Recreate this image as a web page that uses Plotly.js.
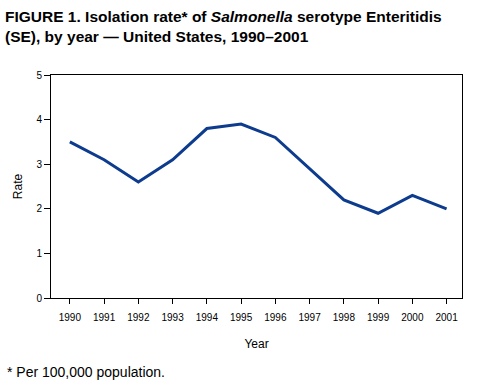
<!DOCTYPE html>
<html><head><meta charset="utf-8">
<script src="https://cdn.plot.ly/plotly-3.0.1.min.js"></script>
<style>html,body{margin:0;padding:0;background:#fff}#chart{width:482px;height:387px}</style>
</head><body><div id="chart"></div>
<script>
const years = [1990,1991,1992,1993,1994,1995,1996,1997,1998,1999,2000,2001];
const rates = [3.5,3.1,2.6,3.1,3.8,3.9,3.6,2.9,2.2,1.9,2.3,2.0];
const yTicks = [0,1,2,3,4,5];

const font = "'Liberation Sans', Arial, Helvetica, sans-serif";
const W = 411, H = 223;
const data = [{
  x: years, y: rates, type: 'scatter', mode: 'lines',
  line: {color: '#0d3b8e', width: 3}, hoverinfo: 'none'
}];
const layout = {
  width: 482, height: 387,
  margin: {l: 51, r: 20, t: 75, b: 89},
  paper_bgcolor: '#fff', plot_bgcolor: '#fff',
  font: {family: font, color: '#000', size: 10},
  showlegend: false,
  xaxis: {
    range: [1989.45, 2001.45], tickvals: years, ticktext: years.map(String),
    showgrid: false, zeroline: false, showline: true, linecolor: '#000', linewidth: 1, mirror: true,
    ticks: 'outside', ticklen: 5, tickcolor: '#000', tickfont: {size: 10}, ticklabelstandoff: 5,
    title: {text: 'Year', font: {size: 12}, standoff: 17}
  },
  yaxis: {
    range: [0, 5], tickvals: yTicks,
    showgrid: false, zeroline: false, showline: true, linecolor: '#000', linewidth: 1, mirror: true,
    ticks: 'outside', ticklen: 6, tickcolor: '#000', tickfont: {size: 10},
    title: {text: 'Rate', font: {size: 12}, standoff: 11}
  },
  annotations: [{
    text: '<b>FIGURE 1. Isolation rate* of <i>Salmonella</i> serotype Enteritidis<br>(SE), by year — United States, 1990–2001</b>',
    xref: 'paper', yref: 'paper', x: -48/W, y: (298-6)/H, xanchor: 'left', yanchor: 'top',
    align: 'left', showarrow: false,
    font: {family: font, size: 15.5, color: '#000'}
  }, {
    text: '* Per 100,000 population.', xref: 'paper', yref: 'paper',
    x: -46/W, y: -(372-298)/H, xanchor: 'left', yanchor: 'middle', showarrow: false,
    font: {family: font, size: 14, color: '#000'}
  }]
};
Plotly.newPlot('chart', data, layout, {displayModeBar: false, staticPlot: true});
</script></body></html>
